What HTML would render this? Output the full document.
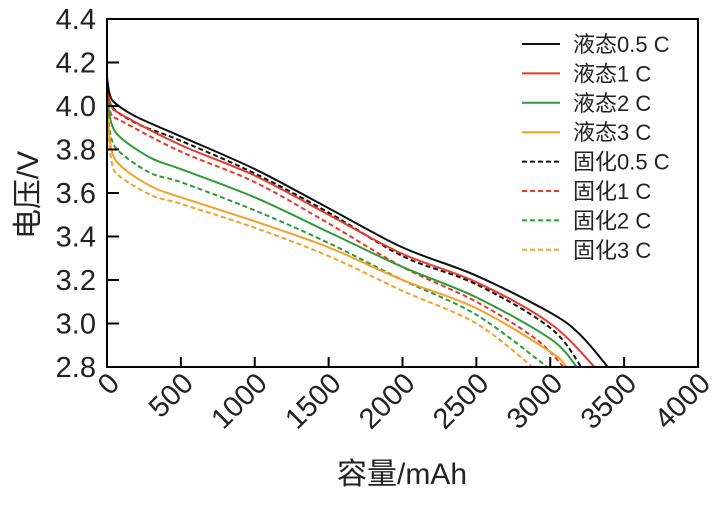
<!DOCTYPE html>
<html><head><meta charset="utf-8"><style>
body{margin:0;background:#fff}
svg{display:block;font-family:"Liberation Sans","Noto Sans CJK SC",sans-serif}
</style></head><body>
<svg id="chart" width="720" height="514">
<g id="marks"></g>
<rect x="107" y="19" width="591" height="348" fill="none" stroke="#000" stroke-width="2"/>
<g id="axes"></g>
<text x="0" y="0" transform="translate(38,195) rotate(-90)" text-anchor="middle" font-size="30" fill="#222">电压/V</text>
<text x="402" y="484" text-anchor="middle" font-size="30" fill="#222">容量/mAh</text>
<g id="legend"></g>
</svg>
<script>
const xTicks=[0,500,1000,1500,2000,2500,3000,3500,4000];
const yTicks=[2.8,3.0,3.2,3.4,3.6,3.8,4.0,4.2,4.4];
const seriesNames=["液态0.5 C","液态1 C","液态2 C","液态3 C","固化0.5 C","固化1 C","固化2 C","固化3 C"];
const seriesColors=["#111","#e8392b","#2e9a3a","#f4a128","#111","#e8392b","#2e9a3a","#f4a128"];
const seriesDashed=[false,false,false,false,true,true,true,true];
const capL05=[0,20,60,200,500,1000,1500,2000,2500,3000,3200,3390];
const voltL05=[4.13,4.05,4.01,3.95,3.86,3.71,3.53,3.35,3.22,3.05,2.95,2.8];
const capL1=[0,30,100,500,1000,1500,2000,2500,3000,3300];
const voltL1=[4.08,4.0,3.96,3.82,3.68,3.50,3.32,3.19,3.0,2.8];
const capL2=[0,30,100,300,500,1000,1500,2000,2500,3000,3180];
const voltL2=[4.05,3.92,3.85,3.76,3.71,3.58,3.42,3.26,3.12,2.93,2.8];
const capL3=[0,30,100,300,500,1000,1500,2000,2500,3000,3110];
const voltL3=[3.98,3.8,3.72,3.63,3.58,3.47,3.35,3.2,3.07,2.87,2.8];
const capS05=[0,30,200,500,1000,1500,2000,2500,3000,3210];
const voltS05=[4.10,4.0,3.92,3.84,3.69,3.51,3.31,3.18,2.98,2.8];
const capS1=[0,30,100,500,1000,1500,2000,2500,2900,3090];
const voltS1=[4.05,3.96,3.93,3.79,3.65,3.46,3.26,3.1,2.93,2.8];
const capS2=[0,30,100,300,500,1000,1500,2000,2500,2980];
const voltS2=[4.0,3.85,3.78,3.69,3.65,3.52,3.37,3.2,3.04,2.8];
const capS3=[0,30,80,300,500,1000,1500,2000,2500,2880];
const voltS3=[3.93,3.75,3.68,3.59,3.55,3.44,3.31,3.15,3.0,2.8];
const caps=[capL05,capL1,capL2,capL3,capS05,capS1,capS2,capS3];
const volts=[voltL05,voltL1,voltL2,voltL3,voltS05,voltS1,voltS2,voltS3];
const NS="http://www.w3.org/2000/svg";
const X=v=>107+v*(591/4000);
const Y=v=>367-(v-2.8)*(348/1.6);
function mk(t,a,p){const e=document.createElementNS(NS,t);for(const k in a)e.setAttribute(k,a[k]);p.appendChild(e);return e;}
function pathFor(xs,ys){
 const p=xs.map((x,i)=>[X(x),Y(ys[i])]);let d="M"+p[0][0]+","+p[0][1];
 for(let i=0;i<p.length-1;i++){const p0=p[i-1]||p[i],p1=p[i],p2=p[i+1],p3=p[i+2]||p2;
  const c1=[p1[0]+(p2[0]-p0[0])/6,p1[1]+(p2[1]-p0[1])/6],c2=[p2[0]-(p3[0]-p1[0])/6,p2[1]-(p3[1]-p1[1])/6];
  d+=" C"+c1+" "+c2+" "+p2;}
 return d;}
const marks=document.getElementById('marks');
for(let s=7;s>=0;s--){
 const el=mk('path',{d:pathFor(caps[s],volts[s]),fill:'none',stroke:seriesColors[s],'stroke-width':2,'stroke-dasharray':seriesDashed[s]?'5,3':'none'},marks);
 
 
}
const axes=document.getElementById('axes');
xTicks.forEach(t=>{
 const l=mk('line',{x1:X(t),x2:X(t),y1:367,y2:357,stroke:'#000','stroke-width':2},axes);
 
 
 const tx=mk('text',{x:0,y:0,transform:`translate(${X(t)+14},${385}) rotate(-45)`,'text-anchor':'end','font-size':29,fill:'#222'},axes);
 tx.textContent=t;
 
 
});
yTicks.forEach(t=>{
 const l=mk('line',{x1:107,x2:119,y1:Y(t),y2:Y(t),stroke:'#000','stroke-width':2},axes);
 
 
 const tx=mk('text',{x:96,y:Y(t)+10,'text-anchor':'end','font-size':29,fill:'#222'},axes);
 tx.textContent=t.toFixed(1);
 
 
});
const lg=document.getElementById('legend');
seriesNames.forEach((n,i)=>{
 const y=44+i*29.4;
 const l=mk('line',{x1:522,x2:560,y1:y,y2:y,stroke:seriesColors[i],'stroke-width':2,'stroke-dasharray':seriesDashed[i]?'5,3':'none'},lg);
 
 
 const tx=mk('text',{x:573,y:y+8,'font-size':22,fill:'#222'},lg);
 tx.textContent=n;
 
 
});
</script>
</body></html>
